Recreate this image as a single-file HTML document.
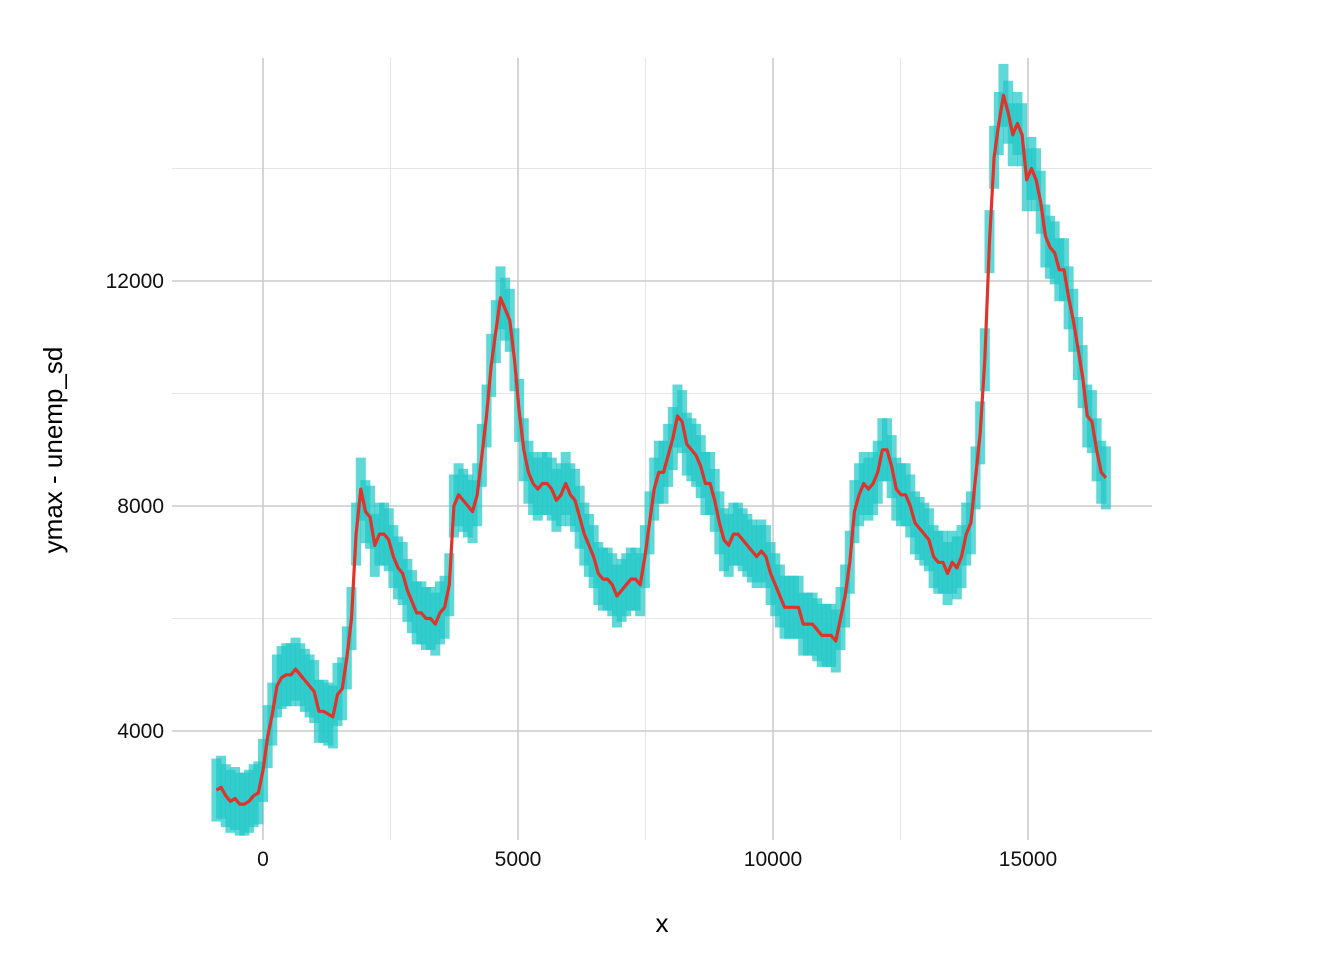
<!DOCTYPE html>
<html><head><meta charset="utf-8"><style>
html,body{margin:0;padding:0;background:#fff;}
svg text{font-family:"Liberation Sans","DejaVu Sans",sans-serif;}
</style></head><body>
<svg id="chart" width="1344" height="960">
<g id="grid"></g>
<g id="bands"></g>
<g id="lines"></g>
<g id="axes"></g>
<text x="662" y="932" font-size="26" text-anchor="middle" fill="#000">x</text>
<text transform="translate(62,450) rotate(-90)" font-size="26" text-anchor="middle" fill="#000">ymax - unemp_sd</text>
</svg>
<script>
const startYear = 1967.5;
const unemp = [2950,3000,
2850,2750,2800,2700, 2700,2750,2850,2900, 3300,3900,4300,4800, 4950,5000,5000,5100,
5000,4900,4800,4700, 4350,4350,4300,4250, 4650,4750,5300,6000, 7500,8300,7900,7800,
7300,7500,7500,7400, 7100,6900,6800,6500, 6300,6100,6100,6000, 6000,5900,6100,6200,
6600,8000,8200,8100, 8000,7900,8200,8900, 9600,10500,11100,11700, 11500,11300,10600,9700,
9000,8600,8400,8300, 8400,8400,8300,8100, 8200,8400,8200,8100, 7800,7500,7300,7100,
6800,6700,6700,6600, 6400,6500,6600,6700, 6700,6600,7100,7700, 8300,8600,8600,8900,
9200,9600,9500,9100, 9000,8900,8700,8400, 8400,8100,7700,7400, 7300,7500,7500,7400,
7300,7200,7100,7200, 7100,6800,6600,6400, 6200,6200,6200,6200, 5900,5900,5900,5800,
5700,5700,5700,5600, 6000,6400,7000,7900, 8200,8400,8300,8400, 8600,9000,9000,8700,
8300,8200,8200,8000, 7700,7600,7500,7400, 7100,7000,7000,6800, 7000,6900,7100,7500,
7700,8500,9300,10600, 12700,14200,14800,15300, 15000,14600,14800,14600, 13800,14000,13800,13400,
12800,12600,12500,12200, 12200,11700,11300,10800, 10300,9600,9500,9000, 8600,8500];
const sd = 560;
const xTicks = [0,5000,10000,15000];
const xMinor = [2500,7500,12500];
const yTicks = [4000,8000,12000];
const yMinor = [6000,10000,14000];

const NS="http://www.w3.org/2000/svg";
const X = v => 263 + (v)*0.051;
const Y = v => 506 - (v-8000)*0.05625;
const PL=172, PR=1152, PT=58, PB=840;
function mk(tag, attrs, parent){const e=document.createElementNS(NS,tag);for(const k in attrs)e.setAttribute(k,attrs[k]);parent.appendChild(e);return e;}
const grid=document.getElementById('grid'), bands=document.getElementById('bands'), lines=document.getElementById('lines'), axes=document.getElementById('axes');
xMinor.forEach(v=>{const l=mk('line',{x1:X(v),x2:X(v),y1:PT,y2:PB,stroke:'#e6e6e6','stroke-width':1},grid);

});
yMinor.forEach(v=>{const l=mk('line',{x1:PL,x2:PR,y1:Y(v),y2:Y(v),stroke:'#e6e6e6','stroke-width':1},grid);

});
xTicks.forEach(v=>{const l=mk('line',{x1:X(v),x2:X(v),y1:PT,y2:PB,stroke:'#cccccc','stroke-width':1.6},grid);


const t=mk('text',{x:X(v),y:866,'font-size':21,'text-anchor':'middle',fill:'#111'},axes);t.textContent=v;

});
yTicks.forEach(v=>{const l=mk('line',{x1:PL,x2:PR,y1:Y(v),y2:Y(v),stroke:'#cccccc','stroke-width':1.6},grid);


const t=mk('text',{x:164,y:Y(v)+7,'font-size':21,'text-anchor':'end',fill:'#111'},axes);t.textContent=v;

});
const days = i => (startYear + i*0.25 - 1970)*365.25;
unemp.forEach((u,i)=>{const x=X(days(i));const r=mk('rect',{x:x-5,y:Y(u+sd),width:10,height:Y(u-sd)-Y(u+sd),fill:'#1ec8c8','fill-opacity':0.7},bands);

});
const pts=unemp.map((u,i)=>X(days(i)).toFixed(1)+','+Y(u).toFixed(1)).join(' ');
const pl=mk('polyline',{points:pts,fill:'none',stroke:'#e0332a','stroke-width':3.2,'stroke-linejoin':'round'},lines);


</script>
</body></html>
